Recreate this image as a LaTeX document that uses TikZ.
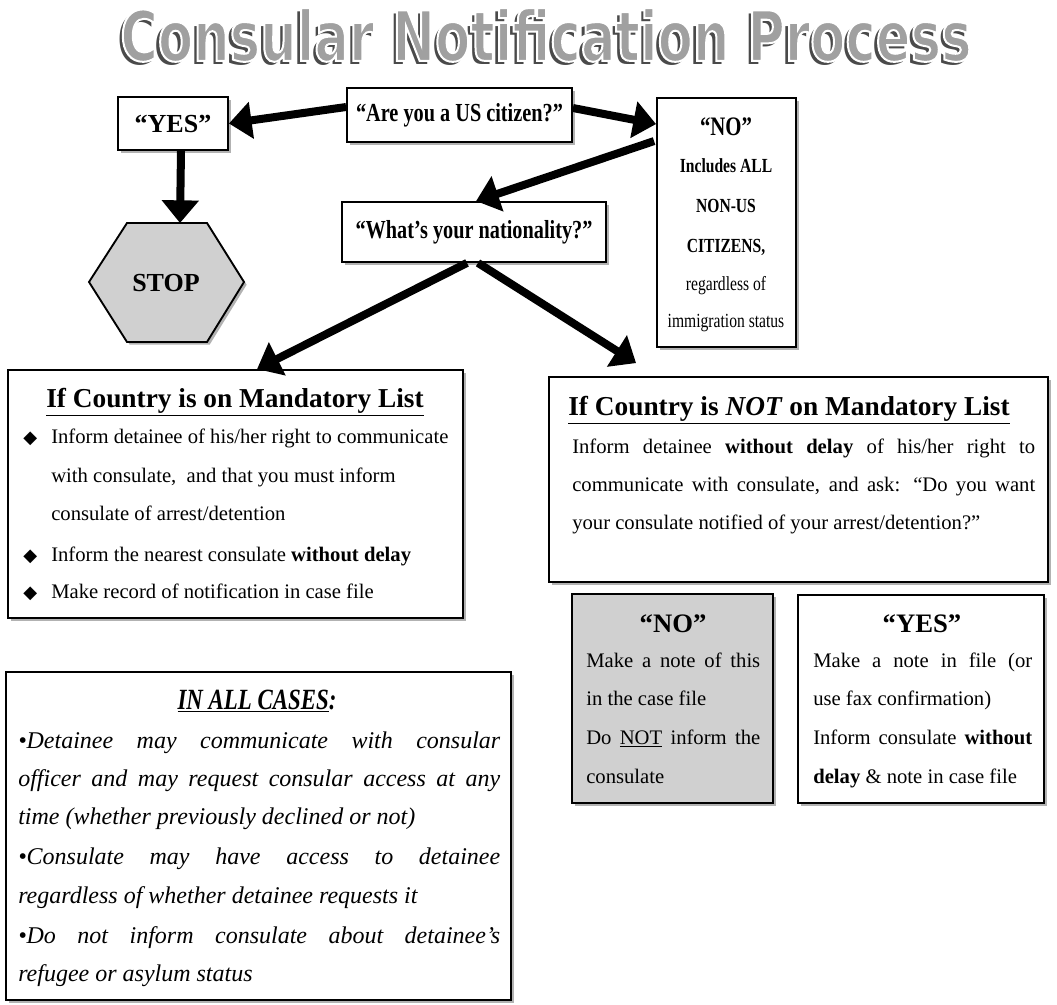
\documentclass[tikz,border=0pt]{standalone}
\usepackage{fontspec}
\setmainfont{Liberation Serif}
\newfontfamily\condf[FakeStretch=0.78]{Liberation Serif}
\newfontfamily\titlef[FakeStretch=0.74]{DejaVu Sans}
\newfontfamily\symf{DejaVu Sans}
\usetikzlibrary{arrows.meta,shadows,calc}
\definecolor{titlegray}{HTML}{A0A0A0}
\definecolor{shadegray}{HTML}{4A4A4A}
\definecolor{boxgray}{HTML}{D0D0D0}
\newcommand\hbig{\bfseries\fontsize{19.5}{23}\selectfont}
\newcommand\qbig{\condf\bfseries\fontsize{19.5}{23}\selectfont}
\newcommand\bull{\makebox[21pt][l]{\symf\fontsize{13.5}{13.5}\selectfont ◆}}
\newcommand\outlinetext[1]{\special{pdf:literal direct 1 1 1 RG 1.5 w 2 Tr}#1\special{pdf:literal direct 0 Tr}}
\begin{document}
\begin{tikzpicture}[x=0.75pt,y=-0.75pt,
  box/.style={draw=black, line width=1.4pt, fill=white, inner sep=0pt,
    drop shadow={shadow xshift=2pt, shadow yshift=-2pt, fill=black, opacity=0.3}},
  bigarrow/.style={line width=6pt, -{Triangle[length=17pt,width=27pt]}},
  txt/.style={inner sep=0pt, anchor=base west},
  ctxt/.style={inner sep=0pt, anchor=base},
  headfont/.style={font=\bfseries\fontsize{20.5}{24}\selectfont},
  bodyfont/.style={font=\fontsize{15.5}{18}\selectfont},
  smallfont/.style={font=\fontsize{15.5}{18}\selectfont},
  casefont/.style={font=\itshape\fontsize{18}{21}\selectfont},
  nofont/.style={font=\condf\fontsize{15}{18}\selectfont},
  titlefont/.style={font=\titlef\bfseries\fontsize{52}{58}\selectfont}
]
\path[use as bounding box] (0,0) rectangle (1057,1004);

% ---- title ----
\node[inner sep=0pt, text=shadegray, titlefont] (titleshadow) at (543,39) {Consular Notification Process};
\node[inner sep=0pt, text=titlegray, titlefont] (title) at (546,35) {\outlinetext{Consular Notification Process}};

% ---- boxes ----
\node[box, minimum width=82.5pt, minimum height=39.75pt, font=\hbig] (yes) at (173,123.5) {“YES”};
\node[box, minimum width=168.75pt, minimum height=40.5pt, font=\qbig] (q) at (459.5,115) {“Are you a US citizen?”};
\node[box, minimum width=104.25pt, minimum height=186.75pt] (no) at (726.5,222.5) {};
\node[box, minimum width=198pt, minimum height=45pt, font=\qbig] (nat) at (474,232) {“What’s your nationality?”};
\node[box, minimum width=341.25pt, minimum height=186pt] (mand) at (235.5,494) {};
\node[box, minimum width=374.25pt, minimum height=153.75pt] (notm) at (798.5,479.5) {};
\node[box, fill=boxgray, minimum width=150.75pt, minimum height=156.75pt] (nobox) at (672.5,698.5) {};
\node[box, minimum width=184.5pt, minimum height=156pt] (yesbox) at (921,699) {};
\node[box, minimum width=378.75pt, minimum height=246pt] (allc) at (258.5,836) {};

% ---- stop hexagon ----
\filldraw[fill=boxgray, draw=black, line width=1.4pt, drop shadow={shadow xshift=2pt, shadow yshift=-2pt, fill=black, opacity=0.3}]
  (127,223) -- (207,223) -- (244,282) -- (207,342) -- (127,342) -- (89,282) -- cycle;
\node[inner sep=0pt, font=\hbig] (stop) at (166,283) {STOP};
\coordinate (stoptop) at (180,223);

% ---- "NO" box text ----
\node[ctxt, font=\condf\bfseries\fontsize{20}{24}\selectfont] (noT) at (726,135) {“NO”};
\node[ctxt, font=\condf\bfseries\fontsize{15}{18}\selectfont] (no1) at (726,172) {Includes ALL};
\node[ctxt, font=\condf\bfseries\fontsize{15}{18}\selectfont] (no2) at (726,212) {NON-US};
\node[ctxt, font=\condf\bfseries\fontsize{15}{18}\selectfont] (no3) at (726,252) {CITIZENS,};
\node[ctxt, nofont] (no4) at (726,290) {regardless of};
\node[ctxt, nofont] (no5) at (726,327) {immigration status};

% ---- mandatory list ----
\node[ctxt, headfont] (mandT) at (235,407) {\underline{If Country is on Mandatory List}};
\node[txt, bodyfont] (m1) at (23,443) {\bull Inform detainee of his/her right to communicate};
\node[txt, bodyfont] (m2) at (51,482) {with consulate,\ \ and that you must inform};
\node[txt, bodyfont] (m3) at (51,520) {consulate of arrest/detention};
\node[txt, bodyfont] (m4) at (23,561) {\bull Inform the nearest consulate \textbf{without delay}};
\node[txt, bodyfont] (m5) at (23,598) {\bull Make record of notification in case file};

% ---- not mandatory ----
\node[ctxt, headfont] (notmT) at (789,415) {\underline{If Country is \textit{NOT} on Mandatory List}};
\node[txt, bodyfont] (n1) at (572,453) {\makebox[347.25pt][s]{Inform detainee \textbf{without delay} of his/her right to}};
\node[txt, bodyfont] (n2) at (572,491) {\makebox[347.25pt][s]{communicate with consulate, and ask: “Do you want}};
\node[txt, bodyfont] (n3) at (572,529) {your consulate notified of your arrest/detention?”};

% ---- small NO box ----
\node[ctxt, font=\bfseries\fontsize{20}{24}\selectfont] (nbT) at (673,632) {“NO”};
\node[txt, smallfont] (nb1) at (586,667) {\makebox[130.5pt][s]{Make a note of this}};
\node[txt, smallfont] (nb2) at (586,705) {in the case file};
\node[txt, smallfont] (nb3) at (586,744) {\makebox[130.5pt][s]{Do \underline{NOT} inform the}};
\node[txt, smallfont] (nb4) at (586,783) {consulate};

% ---- small YES box ----
\node[ctxt, font=\bfseries\fontsize{20}{24}\selectfont] (ybT) at (922,632) {“YES”};
\node[txt, smallfont] (yb1) at (813,667) {\makebox[164.25pt][s]{Make a note in file (or}};
\node[txt, smallfont] (yb2) at (813,705) {use fax confirmation)};
\node[txt, smallfont] (yb3) at (813,744) {\makebox[164.25pt][s]{Inform consulate \textbf{without}}};
\node[txt, smallfont] (yb4) at (813,783) {\textbf{delay} \& note in case file};

% ---- in all cases ----
\node[ctxt, font=\condf\bfseries\itshape\fontsize{22}{26}\selectfont] (acT) at (257,709) {\underline{IN ALL CASES}:};
\node[txt, casefont] (a1) at (18,748) {\makebox[361.5pt][s]{•Detainee may communicate with consular}};
\node[txt, casefont] (a2) at (18,786) {\makebox[361.5pt][s]{officer and may request consular access at any}};
\node[txt, casefont] (a3) at (18,824) {time (whether previously declined or not)};
\node[txt, casefont] (a4) at (18,864) {\makebox[361.5pt][s]{•Consulate may have access to detainee}};
\node[txt, casefont] (a5) at (18,903) {regardless of whether detainee requests it};
\node[txt, casefont] (a6) at (18,943) {\makebox[361.5pt][s]{•Do not inform consulate about detainee’s}};
\node[txt, casefont] (a7) at (18,981) {refugee or asylum status};

% ---- arrows ----
\draw[bigarrow] ($(q.west)+(0,-8)$) -- (yes.east);
\draw[bigarrow] ($(q.east)+(0,-7)$) -- ($(no.north west)+(0,27)$);
\draw[bigarrow] ($(no.north west)+(-2,44)$) -- ($(nat.north west)+(135,0)$);
\draw[bigarrow] ($(yes.south)+(8,0)$) -- (stoptop);
\draw[bigarrow] ($(nat.south)+(-7,0)$) -- ($(mand.north west)+(250,0)$);
\draw[bigarrow] ($(nat.south)+(4,0)$) -- ($(notm.north west)+(88,-13)$);
\end{tikzpicture}
\end{document}
